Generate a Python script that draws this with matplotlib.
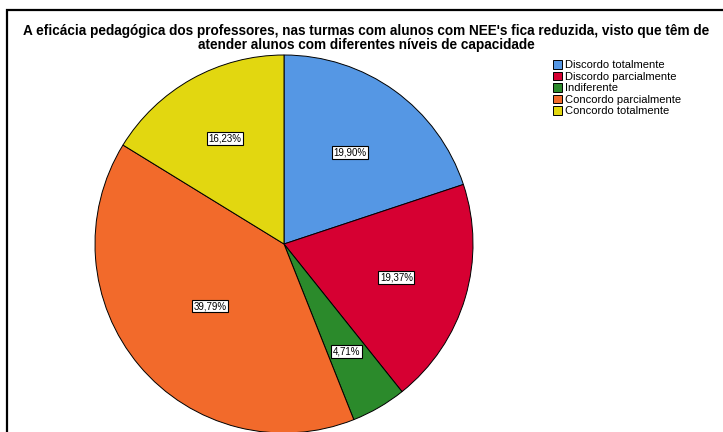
import numpy as np
import matplotlib
matplotlib.use("Agg")
from matplotlib import pyplot as plt
from matplotlib.patches import Rectangle

# respostas (%) no sentido horário a partir do topo
categorias = ["Discordo totalmente", "Discordo parcialmente", "Indiferente",
              "Concordo parcialmente", "Concordo totalmente"]
percentagens = [19.90, 19.37, 4.71, 39.79, 16.23]
cores = ["#5597e4", "#d60032", "#2b8a2b", "#f26a2b", "#e2d710"]

# distância radial de cada rótulo
dist_rotulo = [0.60, 0.62, 0.66, 0.51, 0.64]

titulo = ("A eficácia pedagógica dos professores, nas turmas com alunos com NEE's fica reduzida, visto que têm de\n"
          "atender alunos com diferentes níveis de capacidade")

plt.rcParams['font.family'] = ['Liberation Sans', 'DejaVu Sans']

W, H = 723, 432
fig = plt.figure(figsize=(W / 100, H / 100), dpi=100)

# moldura
fig.patches.append(Rectangle((7 / W, -0.1), 1.2, (H - 10.5) / H + 0.1,
                             transform=fig.transFigure, fill=False,
                             edgecolor='black', linewidth=1.6))

cx, cy, r = 284, 432 - 244, 189
ax = fig.add_axes([(cx - r) / W, (cy - r) / H, 2 * r / W, 2 * r / H])
wedges, _ = ax.pie(percentagens, colors=cores, startangle=90, counterclock=False,
                   radius=1, wedgeprops=dict(edgecolor='black', linewidth=0.7))
ax.set_xlim(-1, 1)
ax.set_ylim(-1, 1)
ax.set_aspect('auto')
ax.axis('off')

# rótulos de percentagem
acum = np.cumsum([0] + percentagens)
for i, p in enumerate(percentagens):
    meio = (acum[i] + p / 2) / 100 * 2 * np.pi
    x = dist_rotulo[i] * np.sin(meio)
    y = dist_rotulo[i] * np.cos(meio)
    ax.text(x, y, f"{p:.2f}%".replace('.', ','), ha='center', va='center', fontsize=7,
            bbox=dict(boxstyle='square,pad=0.15', facecolor='white', edgecolor='black', linewidth=0.8))

fig.text(366 / W, 1 - 38 / H, titulo, ha='center', va='center', fontsize=9.8,
         fontweight='bold', linespacing=1.0)

fig.legend(wedges, categorias, loc='upper left', bbox_to_anchor=(553 / W, 1 - 60 / H),
           frameon=False, fontsize=8, handlelength=0.8, handleheight=0.8,
           handletextpad=0.3, labelspacing=0.13, borderpad=0, borderaxespad=0)

fig.savefig("out.png", dpi=100)
